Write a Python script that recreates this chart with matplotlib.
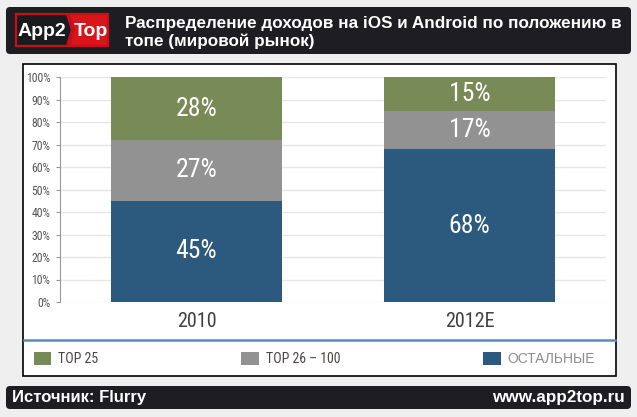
import numpy as np
import matplotlib
matplotlib.use("Agg")
import matplotlib.pyplot as plt
from matplotlib.patches import FancyBboxPatch, Rectangle, Polygon

# --- data ---
years = ["2010", "2012E"]
rest = [45, 68]        # ОСТАЛЬНЫЕ
top26_100 = [27, 17]   # TOP 26 – 100
top25 = [28, 15]       # TOP 25
series_names = ["ОСТАЛЬНЫЕ", "TOP 26 – 100", "TOP 25"]
colors = ["#2b5a7e", "#929292", "#788b57"]
yticks = np.arange(0, 101, 10)

title = "Распределение доходов на iOS и Android по положению в\nтопе (мировой рынок)"
source = "Источник: Flurry"
site = "www.app2top.ru"

W, H = 637, 417
NARROW = ["Roboto Condensed", "Liberation Sans", "DejaVu Sans"]
SANS = ["Liberation Sans", "DejaVu Sans"]

fig = plt.figure(figsize=(W / 100, H / 100), dpi=100, facecolor="#efefef")

# background layer in pixel coordinates
bg = fig.add_axes([0, 0, 1, 1], zorder=0)
bg.set_xlim(0, W)
bg.set_ylim(H, 0)
bg.axis("off")

# top banner
bg.add_patch(FancyBboxPatch((6, 7), 625, 47, boxstyle="round,pad=0,rounding_size=4",
                            fc="#1e1d22", ec="none"))
# logo
bg.add_patch(Polygon([(16, 14), (67, 14), (72, 30), (67, 46), (16, 46)],
                     closed=True, fc="#1b1a1f", ec="#c8101a", lw=1.6))
bg.add_patch(Polygon([(69, 14), (108, 14), (108, 46), (69, 46), (74, 30)],
                     closed=True, fc="#d9141b", ec="#c8101a", lw=1.6))
bg.text(42, 31, "App2", color="white", fontsize=14, fontweight="bold",
        family=SANS, ha="center", va="center")
bg.text(91, 31, "Top", color="white", fontsize=14, fontweight="bold",
        family=SANS, ha="center", va="center")
bg.text(125, 32, title, color="white", fontsize=12.3, fontweight="bold",
        family=SANS, ha="left", va="center", linespacing=1.2)

# chart panel
bg.add_patch(Rectangle((23, 64), 593, 312, fc="white", ec="black", lw=1.2))
bg.plot([24, 615], [340, 340], color="#5b8ac0", lw=1.8)

# bottom banner
bg.add_patch(FancyBboxPatch((6, 386), 625, 23, boxstyle="round,pad=0,rounding_size=4",
                            fc="#1e1d22", ec="none"))
bg.text(12, 397.5, source, color="white", fontsize=12, fontweight="bold",
        family=SANS, ha="left", va="center")
bg.text(625, 397.5, site, color="white", fontsize=12.3, fontweight="bold",
        family=SANS, ha="right", va="center")

# chart axes
ax = fig.add_axes([60 / W, 1 - 302 / H, 546 / W, 225 / H], zorder=1)
ax.patch.set_alpha(0)
x = np.arange(len(years))
bw = 0.626
b1 = ax.bar(x, rest, bw, color=colors[0], label=series_names[0], zorder=2)
b2 = ax.bar(x, top26_100, bw, bottom=rest, color=colors[1], label=series_names[1], zorder=2)
b3 = ax.bar(x, top25, bw, bottom=np.add(rest, top26_100), color=colors[2],
            label=series_names[2], zorder=2)
for bars, vals in [(b1, rest), (b2, top26_100), (b3, top25)]:
    for bar, v in zip(bars, vals):
        ax.text(bar.get_x() + bar.get_width() / 2, bar.get_y() + bar.get_height() / 2,
                f"{v}%", color="white", fontsize=18.5, family=NARROW,
                ha="center", va="center", zorder=3)

ax.set_xlim(-0.5, 1.5)
ax.set_ylim(0, 100)
ax.set_yticks(yticks)
ax.set_yticklabels([f"{t}%" for t in yticks], fontsize=8.5, color="#555555", family=NARROW)
ax.yaxis.grid(True, color="#e6e6e6", lw=1, zorder=0)
ax.set_xticks(x)
ax.set_xticklabels(years, fontsize=14.5, color="#404040", family=NARROW)
ax.tick_params(axis="x", length=0, pad=7)
ax.tick_params(axis="y", length=3, color="#999999", pad=4)
for s in ["top", "right", "bottom"]:
    ax.spines[s].set_visible(False)
ax.spines["left"].set_color("#999999")

leg = fig.legend([b3, b2, b1], [series_names[2], series_names[1], series_names[0]],
                 ncol=3, frameon=False, loc="center left",
                 bbox_to_anchor=(34 / W, 1 - 359 / H), borderaxespad=0, borderpad=0,
                 prop={"family": NARROW, "size": 10},
                 handlelength=1.25, handleheight=1.15, handletextpad=0.5,
                 columnspacing=10.3)
texts = leg.get_texts()
for t in texts[:2]:
    t.set_color("#4d4747")
texts[2].set_color("#8c8c8c")
texts[2].set_fontfamily(SANS)

fig.savefig("out.png", dpi=100, facecolor=fig.get_facecolor())
